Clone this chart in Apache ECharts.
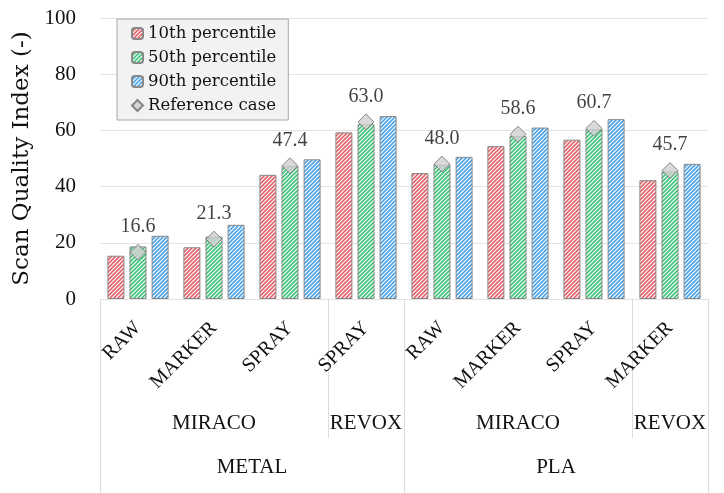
<!DOCTYPE html>
<html>
<head>
<meta charset="utf-8">
<script src="https://cdn.jsdelivr.net/npm/echarts@6/dist/echarts.min.js"></script>
<style>
  html, body { margin: 0; padding: 0; background: #fff; }
  #chart { width: 724px; height: 493px; }
</style>
</head>
<body>
<div id="chart"></div>
<script>
// data
var methods = ['RAW', 'MARKER', 'SPRAY', 'SPRAY', 'RAW', 'MARKER', 'SPRAY', 'MARKER'];
var scanners = ['MIRACO', 'REVOX', 'MIRACO', 'REVOX'];
var scannerSpans = [3, 1, 3, 1];
var materials = ['METAL', 'PLA'];
var materialSpans = [4, 4];
var p10 = [15.4, 18.4, 44.2, 59.3, 44.8, 54.4, 56.7, 42.3];
var p50 = [18.7, 22.2, 47.3, 62.2, 47.8, 58.0, 60.4, 45.4];
var p90 = [22.5, 26.4, 49.7, 65.1, 50.6, 61.0, 64.0, 48.1];
var reference = [16.6, 21.3, 47.4, 63.0, 48.0, 58.6, 60.7, 45.7];
var yTicks = [0, 20, 40, 60, 80, 100];

var SERIF = '"Liberation Serif", "DejaVu Serif", serif';
var SERIF_WIDE = '"DejaVu Serif", serif';

function hatch (color) {
  var c = document.createElement('canvas');
  c.width = 4; c.height = 4;
  var ctx = c.getContext('2d');
  ctx.fillStyle = '#fff';
  ctx.fillRect(0, 0, 4, 4);
  ctx.strokeStyle = color;
  ctx.lineWidth = 1.6;
  ctx.beginPath();
  ctx.moveTo(0, 4); ctx.lineTo(4, 0);
  ctx.moveTo(-1, 1); ctx.lineTo(1, -1);
  ctx.moveTo(3, 5); ctx.lineTo(5, 3);
  ctx.stroke();
  return { image: c, repeat: 'repeat' };
}

// group centres and boundaries on a 0..n value scale
function groupInfo (spans) {
  var bounds = [0], centres = [], pos = 0;
  spans.forEach(function (s) { centres.push(pos + s / 2); pos += s; bounds.push(pos); });
  return { bounds: bounds, centres: centres };
}
var lvl2 = groupInfo(scannerSpans);
var lvl1 = groupInfo(materialSpans);

function groupAxis (names, info, tickLen, labelMargin) {
  return {
    type: 'value', min: 0, max: methods.length, position: 'bottom',
    axisLine: { show: false },
    splitLine: { show: false },
    axisTick: { show: true, customValues: info.bounds, length: tickLen,
      lineStyle: { color: '#dcdcdc', width: 1 } },
    axisLabel: {
      customValues: info.centres, margin: labelMargin,
      fontFamily: SERIF, fontSize: 21, color: '#111',
      formatter: function (v) {
        var i = info.centres.indexOf(v);
        return i >= 0 ? names[i] : '';
      }
    }
  };
}

function barSeries (name, values, color) {
  return {
    name: name, type: 'bar', xAxisIndex: 0, data: values,
    barWidth: 17, barGap: '30%',
    itemStyle: { color: hatch(color), borderColor: '#888', borderWidth: 1 }
  };
}

var chart = echarts.init(document.getElementById('chart'));
chart.setOption({
  animation: false,
  grid: { left: 100, right: 16, top: 18, bottom: 194 },
  legend: {
    orient: 'vertical', left: 117, top: 19,
    backgroundColor: '#f2f2f2', borderColor: '#a6a6a6', borderWidth: 1,
    padding: [6, 12, 6, 14], itemGap: 7, itemWidth: 11, itemHeight: 11,
    textStyle: { fontFamily: SERIF_WIDE, fontSize: 16.5, color: '#111', lineHeight: 17 },
    data: ['10th percentile', '50th percentile', '90th percentile', 'Reference case']
  },
  xAxis: [
    {
      type: 'category', data: methods, position: 'bottom',
      axisLine: { show: false }, axisTick: { show: false },
      axisLabel: { interval: 0, rotate: 45, margin: 26, fontFamily: SERIF, fontSize: 20, color: '#111' }
    },
    groupAxis(scanners, lvl2, 139, 114),
    groupAxis(materials, lvl1, 194, 158)
  ],
  yAxis: {
    type: 'value', min: 0, max: 100, interval: 20,
    name: 'Scan Quality Index (-)', nameLocation: 'middle', nameGap: 62,
    nameTextStyle: { fontFamily: SERIF_WIDE, fontSize: 23, color: '#111' },
    axisLine: { show: false }, axisTick: { show: false },
    axisLabel: { margin: 24, fontFamily: SERIF, fontSize: 21, color: '#111',
      formatter: function (v) { return yTicks.indexOf(v) >= 0 ? String(v) : ''; } },
    splitLine: { lineStyle: { color: '#e3e3e3' } }
  },
  series: [
    barSeries('10th percentile', p10, '#e5606a'),
    barSeries('50th percentile', p50, '#3cc47a'),
    barSeries('90th percentile', p90, '#4aa3e8'),
    {
      name: 'Reference case', type: 'scatter', xAxisIndex: 0, data: reference,
      symbol: 'diamond', symbolSize: [16, 16], z: 5,
      itemStyle: { color: '#d0d0d0', borderColor: '#6e6e6e', borderWidth: 1 },
      label: { show: true, position: 'top', distance: 7, fontFamily: SERIF, fontSize: 20, color: '#111',
        formatter: function (p) { return p.value.toFixed(1); } }
    }
  ]
});
</script>
</body>
</html>
